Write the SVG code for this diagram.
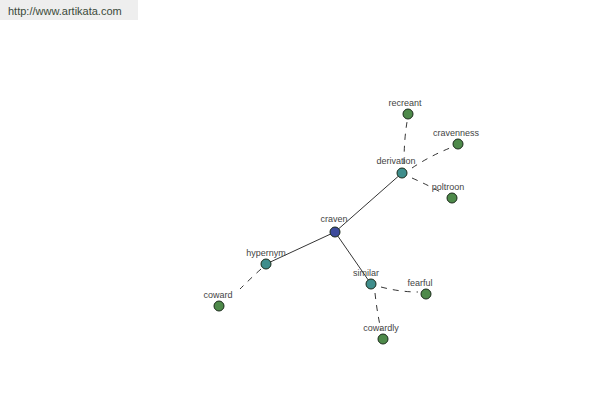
<svg xmlns="http://www.w3.org/2000/svg" width="600" height="400" viewBox="0 0 600 400">
<style>
.lbl{font-family:"Liberation Sans",Arial,sans-serif;font-size:9px;fill:#444;text-anchor:middle}
.n{stroke:#1a2a1a;stroke-width:1}
.root{fill:#3d4b9c}
.rel{fill:#3f8e8c}
.leaf{fill:#4e8a4a}
.s{stroke:#000;stroke-width:0.8;fill:none}
.d{stroke:#000;stroke-width:0.8;fill:none;stroke-dasharray:6,6}
</style>
<rect x="0" y="0" width="138" height="20" fill="#eeeeee"/>
<text x="8" y="15" font-family="Liberation Sans,Arial,sans-serif" font-size="11" fill="#3a4a3a">http://www.artikata.com</text>
<g id="connectors">
<line class="s" x1="335" y1="232" x2="402" y2="173"/>
<line class="s" x1="335" y1="232" x2="266" y2="264"/>
<line class="s" x1="335" y1="232" x2="371" y2="284"/>
<path class="d" d="M404 164 Q404 140 407 122"/>
<path class="d" d="M412 168 Q430 156 450 148"/>
<path class="d" d="M412 178 Q430 186 444 194"/>
<path class="d" d="M261 269 Q250 279 240 289"/>
<path class="d" d="M381 287 Q400 292 418 292"/>
<path class="d" d="M375 293 Q377 312 381 330"/>
</g>
<g id="craven"><circle class="n root" cx="335" cy="232" r="5"/><text class="lbl" x="334" y="222">craven</text></g>
<g id="derivation"><circle class="n rel" cx="402" cy="173" r="5"/><text class="lbl" x="396" y="164">derivation</text></g>
<g id="hypernym"><circle class="n rel" cx="266" cy="264" r="5"/><text class="lbl" x="266" y="256">hypernym</text></g>
<g id="similar"><circle class="n rel" cx="371" cy="284" r="5"/><text class="lbl" x="366" y="276">similar</text></g>
<g id="recreant"><circle class="n leaf" cx="408" cy="114" r="5"/><text class="lbl" x="405" y="106">recreant</text></g>
<g id="cravenness"><circle class="n leaf" cx="458" cy="144" r="5"/><text class="lbl" x="456" y="136">cravenness</text></g>
<g id="poltroon"><circle class="n leaf" cx="452" cy="198" r="5"/><text class="lbl" x="448" y="190">poltroon</text></g>
<g id="coward"><circle class="n leaf" cx="219" cy="306" r="5"/><text class="lbl" x="218" y="298">coward</text></g>
<g id="fearful"><circle class="n leaf" cx="426" cy="294" r="5"/><text class="lbl" x="420" y="286">fearful</text></g>
<g id="cowardly"><circle class="n leaf" cx="383" cy="339" r="5"/><text class="lbl" x="381" y="331">cowardly</text></g>
</svg>
